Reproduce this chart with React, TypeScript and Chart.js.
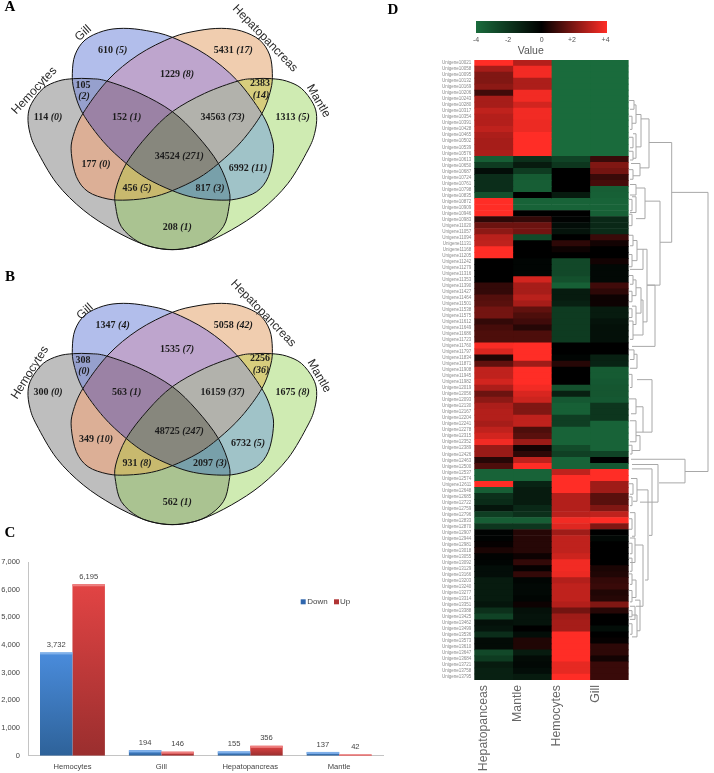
import React, { useEffect, useRef } from "react";
import { Chart, registerables } from "chart.js";

Chart.register(...registerables);

// ---------- Venn data ----------
const vennSets = ["Hepatopancreas", "Gill", "Mantle", "Hemocytes"];
// region membership flags follow vennSets; each region has its own tint
const vennRegions = [
  ["1000", "rgb(240,205,175)"],
  ["0100", "rgb(178,190,235)"],
  ["0010", "rgb(207,235,178)"],
  ["0001", "rgb(190,190,190)"],
  ["0101", "rgb(150,160,205)"],
  ["1100", "rgb(190,165,205)"],
  ["1010", "rgb(215,205,125)"],
  ["1101", "rgb(155,130,165)"],
  ["1110", "rgb(178,178,172)"],
  ["0110", "rgb(160,195,200)"],
  ["1001", "rgb(220,175,150)"],
  ["1011", "rgb(200,185,110)"],
  ["0111", "rgb(120,160,170)"],
  ["1111", "rgb(135,135,125)"],
  ["0011", "rgb(170,195,145)"],
];
const gillOutline = [[370,85],[440,92],[517,112],[620,165],[710,240],[785,340],[815,410],[820,460],[805,530],[770,575],[710,597],[650,600],[580,592],[517,572],[440,535],[378,490],[310,425],[248,340],[222,270],[217,220],[225,165],[255,120],[310,93]];
const hemoOutline = [[84,350],[95,310],[130,265],[175,243],[220,236],[270,236],[320,243],[420,280],[517,335],[590,405],[655,490],[687,570],[687,620],[670,680],[620,725],[560,745],[500,748],[430,733],[340,690],[250,630],[170,550],[110,450],[90,400]];
const mirrorX = 1034;

const regionX = [338,700,531,249,780,144,380,668,878,538,288,744,411,630,532];
const regionY = [150,150,222,256,251,352,351,353,353,469,494,504,566,566,681];
const regionIsTwoLine = [0,0,0,1,1,0,0,0,0,0,0,0,0,0,0];
const countsA = [610,5431,1229,105,2383,114,152,34563,1313,34524,177,6992,456,817,208];
const degsA = [5,17,8,2,14,0,1,73,5,271,0,11,5,3,1];
const countsB = [1347,5058,1535,308,2256,300,563,16159,1675,48725,349,6732,931,2097,562];
const degsB = [4,42,7,0,36,0,1,37,8,247,10,5,8,3,1];

const setLabelNames = ["Hemocytes", "Gill", "Hepatopancreas", "Mantle"];
const setLabelA = [[103,272,-47],[250,100,-42],[795,115,46],[955,303,60]];
const setLabelB = [[90,293,-58],[255,110,-42],[790,115,46],[957,303,60]];

// ---------- Bar data ----------
const barCategories = ["Hemocytes", "Gill", "Hepatopancreas", "Mantle"];
const downValues = [3732, 194, 155, 137];
const upValues = [6195, 146, 356, 42];

// ---------- Heatmap data ----------
const heatColumns = ["Hepatopanceas", "Mantle", "Hemocytes", "Gill"];
const heatTickPos = [0.24, 1.12, 2.15, 3.15];
const hepato = [4,2.6,2,2,2.2,1,2.6,2.6,3,2.8,2.8,3,2.7,2.6,2.6,2.7,-3.5,-2.2,-0.5,-1.7,-1.7,-1.7,-3,4,4,4,0.7,1.7,2.2,2.9,3,4,4,0,0,0,0,0.8,0.8,1.3,1.4,1.8,1.8,0.8,1.1,1.2,1.2,3.9,3.4,0.5,1.5,3,3,3.3,2.7,1.7,2.2,2.7,2.8,2.8,2.6,3,3.3,3.8,2.4,2.4,0.6,1.2,-3.7,-3.7,4,-3.5,-1.8,-1.6,-0.8,-2.3,-3.5,-2,-0.1,-0.1,0.1,0.4,-0.1,-0.2,-0.5,-0.5,-1,-1,-1,-1,-0.8,-1.8,-2.5,-0.6,-0.8,-1.7,-0.4,-0.4,-2.7,-2.2,-1,-1.2,-1.2];
const mantle = [2.8,3.8,3.8,2.7,2.7,3.8,3.8,3.3,3.8,3.8,3.7,3.7,4,4,4,4,-1.8,-1,-2.2,-3.4,-3.5,-3.5,0,-3.7,-3.7,0,0.8,1.7,1.8,-2.8,0,0,0,-0.2,-0.2,-0.2,3.3,2.6,2.6,2.9,2.6,1.5,1.2,1,0.6,1.2,1.2,4,4,4,2.5,4,4,4,3.8,3.4,3.2,2,2,3,3,1.2,1.4,2.4,0.3,0.7,3,4,-3.7,-3.7,-1.3,-1,-1,-1,-1.5,-1.8,-3.5,-2,0.6,0.6,0.6,0.6,0.2,0.8,0.1,0.8,-0.2,-0.3,-0.3,-0.2,0.2,-0.6,-0.7,-0.7,0,-0.5,0.5,0.5,-1,-0.4,-0.3,-0.5,-1];
const hemocytes = [-4,-4,-4,-4,-4,-4,-4,-4,-4,-4,-4,-4,-4,-4,-4,-4,-2.5,-2,0,0,0,0,-1,-3.7,-3.7,0,-0.1,-0.5,-0.7,0,0.7,0.2,0,-2.7,-2.7,-2.7,-3,-3.6,-1,-1,-1.2,-2.2,-2.2,-2.2,-2.2,-2.2,-2.2,0,0,-0.2,0.6,0,0,0,-3,-1.2,-3.3,-3.6,-3.6,-2.3,-2.3,-3.7,-3.7,-3.7,-2.8,-2.4,-3.7,-3.7,3,4,4,4,2.8,2.8,2.8,2.9,3.8,3.5,2.5,3,3,3,3.2,3.8,3.8,3.7,2.8,3,3,3,2.8,1.8,2.5,2.6,2.6,4,4,4,4,4,3.6,3.6,4];
const gill = [-4,-4,-4,-4,-4,-4,-4,-4,-4,-4,-4,-4,-4,-4,-4,-4,0.9,2,1.8,0.9,1.1,-3.5,-3.6,-3.7,-3.7,-3.6,-1.5,-1.5,-1.6,0.9,0.3,0,0,0.3,-0.3,-0.3,-0.3,1,0.7,0.2,0.2,-1,-1,-0.7,-0.6,-0.6,-0.6,0,0,-1.2,-1.3,-3.4,-3.4,-3.3,-3.2,-3.2,-3.3,-2,-2,-2,-3.7,-3.7,-3.7,-3.7,-3.7,-2.5,0,-3.3,4,4,2.5,2.5,1.4,1.4,2,3,4,2,0,-0.3,0,0,0,0,0.4,0.5,0.8,0.9,0.5,0.6,2,0.6,0,0,-0.5,0,0.1,0.7,0.7,0.3,0.9,0.9,0.9];
const heatSeries = [hepato, mantle, hemocytes, gill];
const rowLabels = hepato.map((_, i) => "Unigene" + String(10021 + i * 37));
const colorbarTicks = [[476, "-4"], [508, "-2"], [541.6, "0"], [572, "+2"], [605.6, "+4"]];

// merge node: [height, top row position, bottom row position, top child height, bottom child height]
const dendrogram = [
  [708,167,486,671.7,685],[671.7,110,224,649,660],[649,83,139,641,640],[660,177,273,645,647],[655,273,343,647,632],
  [647,232,315,643,643],[685,472,499,631,659],[658,478,521,632,640],[652,483,559,632,649],[652,381,441,637,643],
  [634,62,72,629,630],[636,67,88,634,632],[632,80,95,629,630],[641,78,115,636,636],[636,100,128,633,633],[633,104,116,629,630],[633,120,130,629,630],[640,134,148,631,633],[633,141,152,629,630],
  [645,162,197,636,636],[636,158,170,630,630],[632,175,188,629,630],[636,172,190,632,630],[632,192,205,629,629],
  [633,216,228,629,630],[637,222,245,633,632],[632,238,252,629,629],[643,232,255,637,630],
  [633,262,272,629,630],[636,267,285,633,632],[632,280,292,629,629],[641,276,305,636,636],[636,297,318,632,633],[632,300,310,629,629],[633,314,335,629,630],[643,290,330,641,633],
  [634,347,358,629,630],[637,352,368,634,630],[632,375,390,629,630],
  [636,403,420,629,631],[643,412,441,636,636],[636,428,452,630,630],[632,456,466,629,630],[640,445,462,636,632],
  [648,507,610,637,645],[637,494,520,631,633],[633,500,512,629,630],[632,515,525,629,630],[635,533,560,630,632],[632,540,552,629,629],
  [643,570,640,635,636],[635,562,590,630,630],[632,568,580,629,630],[632,585,600,629,630],[636,610,630,632,632],[632,603,615,629,630],[632,622,635,629,630],[640,633,668,635,637],[635,640,655,630,630],[637,650,675,632,632],[632,660,672,629,630],[632,645,652,629,629],
];

const SANS = "'Liberation Sans', Arial, sans-serif";
const SERIF = "'Liberation Serif', serif";

function heatColor(v: number) {
  const t = Math.min(Math.abs(v) / 4, 1);
  const c = v < 0 ? [26, 107, 60] : [255, 45, 38];
  return `rgb(${Math.round(c[0] * t)},${Math.round(c[1] * t)},${Math.round(c[2] * t)})`;
}

function tracePath(ctx: any, pts: number[][], sx: any, sy: any) {
  const p = pts.map(([x, y]) => [sx.getPixelForValue(x), sy.getPixelForValue(y)]);
  const n = p.length;
  ctx.beginPath();
  ctx.moveTo(p[0][0], p[0][1]);
  for (let i = 0; i < n; i++) {
    const a = p[(i - 1 + n) % n], b = p[i], c = p[(i + 1) % n], d = p[(i + 2) % n];
    ctx.bezierCurveTo(b[0] + (c[0] - a[0]) / 6, b[1] + (c[1] - a[1]) / 6, c[0] - (d[0] - b[0]) / 6, c[1] - (d[1] - b[1]) / 6, c[0], c[1]);
  }
  ctx.closePath();
}

function vennPlugin(letter: string, letterY: number, labels: number[][], counts: number[], degs: number[]) {
  return {
    id: "venn",
    beforeDatasetsDraw(chart: any) {
      const { ctx, width, height, scales: { x, y } } = chart;
      const mirror = (o: number[][]) => o.map(([a, b]) => [mirrorX - a, b]);
      const shapes = [mirror(gillOutline), gillOutline, mirror(hemoOutline), hemoOutline];
      vennRegions.forEach(([mask, color]) => {
        ctx.save();
        shapes.forEach((s, i) => {
          tracePath(ctx, s, x, y);
          if (mask[i] === "1") {
            ctx.clip();
          } else {
            ctx.rect(-10, -10, width + 20, height + 20);
            ctx.clip("evenodd");
          }
        });
        ctx.fillStyle = color;
        ctx.fillRect(0, 0, width, height);
        ctx.restore();
      });
      ctx.save();
      ctx.strokeStyle = "#111";
      ctx.lineWidth = 1;
      shapes.forEach((s) => {
        tracePath(ctx, s, x, y);
        ctx.stroke();
      });
      ctx.restore();
    },
    afterDatasetsDraw(chart: any) {
      const { ctx, scales: { x, y } } = chart;
      ctx.save();
      ctx.textBaseline = "middle";
      ctx.fillStyle = "#1c1c1c";
      const boldF = `bold 10px ${SERIF}`;
      const italF = `italic bold 10px ${SERIF}`;
      counts.forEach((c, i) => {
        const px = x.getPixelForValue(regionX[i]);
        const py = y.getPixelForValue(regionY[i]);
        const a = String(c);
        const b = `(${degs[i]})`;
        if (regionIsTwoLine[i]) {
          ctx.textAlign = "center";
          ctx.font = boldF;
          ctx.fillText(a, px, py);
          ctx.font = italF;
          ctx.fillText(b, px + 1, py + 11.5);
        } else {
          ctx.textAlign = "left";
          ctx.font = boldF;
          const wa = ctx.measureText(a + " ").width;
          ctx.font = italF;
          const wb = ctx.measureText(b).width;
          const start = px - (wa + wb) / 2;
          ctx.font = boldF;
          ctx.fillText(a, start, py);
          ctx.font = italF;
          ctx.fillText(b, start + wa, py);
        }
      });
      ctx.fillStyle = "#2a2a2a";
      ctx.font = `12px ${SANS}`;
      ctx.textAlign = "center";
      labels.forEach((l, i) => {
        ctx.save();
        ctx.translate(x.getPixelForValue(l[0]), y.getPixelForValue(l[1]));
        ctx.rotate((l[2] * Math.PI) / 180);
        ctx.fillText(setLabelNames[i], 0, 0);
        ctx.restore();
      });
      ctx.fillStyle = "#000";
      ctx.font = `bold 15px ${SERIF}`;
      ctx.fillText(letter, x.getPixelForValue(30), y.getPixelForValue(letterY));
      ctx.restore();
    },
  };
}

function vennConfig(letter: string, letterY: number, yMin: number, labels: number[][], counts: number[], degs: number[]) {
  return {
    type: "scatter",
    data: {
      datasets: [{
        label: vennSets.join(" / "),
        data: regionX.map((rx, i) => ({ x: rx, y: regionY[i] })),
        pointRadius: 0,
      }],
    },
    options: {
      animation: false,
      responsive: false,
      devicePixelRatio: 1,
      layout: { padding: 0 },
      plugins: { legend: { display: false }, tooltip: { enabled: false } },
      scales: {
        x: { display: false, min: 0, max: 1080 },
        y: { display: false, min: yMin, max: yMin + 780, reverse: true },
      },
    },
    plugins: [vennPlugin(letter, letterY, labels, counts, degs)],
  };
}

const barGradient = (top: string, bottom: string) => (c: any) => {
  const { chart, parsed } = c;
  if (!parsed || !chart.chartArea) return top;
  const s = chart.scales.y;
  const g = chart.ctx.createLinearGradient(0, s.getPixelForValue(parsed.y), 0, s.getPixelForValue(0));
  g.addColorStop(0, top);
  g.addColorStop(1, bottom);
  return g;
};

const barPlugin = {
  id: "barExtras",
  afterDatasetsDraw(chart: any) {
    const { ctx } = chart;
    ctx.save();
    const caps = ["#7fb0ea", "#ee7f7f"];
    ctx.font = `7.6px ${SANS}`;
    ctx.textAlign = "center";
    ctx.textBaseline = "middle";
    chart.data.datasets.forEach((ds: any, di: number) => {
      chart.getDatasetMeta(di).data.forEach((bar: any, i: number) => {
        ctx.fillStyle = caps[di];
        ctx.fillRect(bar.x - bar.width / 2, bar.y, bar.width, Math.min(2, bar.base - bar.y));
        ctx.fillStyle = "#444";
        ctx.fillText(ds.data[i].toLocaleString("en-US"), bar.x, bar.y - 7.5);
      });
    });
    ctx.fillStyle = "#2f66ad"; ctx.fillRect(300.7, 79.3, 5, 5);
    ctx.fillStyle = "#b03434"; ctx.fillRect(334, 79.3, 5, 5);
    ctx.fillStyle = "#444";
    ctx.textAlign = "left";
    ctx.font = `8px ${SANS}`;
    ctx.fillText(chart.data.datasets[0].label, 307.3, 82);
    ctx.fillText(chart.data.datasets[1].label, 340, 82);
    ctx.fillStyle = "#000";
    ctx.font = `bold 15px ${SERIF}`;
    ctx.textAlign = "center";
    ctx.fillText("C", 10, 13);
    ctx.restore();
  },
};

const barConfig = {
  type: "bar",
  data: {
    labels: barCategories,
    datasets: [
      { label: "Down", data: downValues, backgroundColor: barGradient("#4a8cdc", "#2e6299") },
      { label: "Up", data: upValues, backgroundColor: barGradient("#e24444", "#9a2e2e") },
    ],
  },
  options: {
    animation: false,
    responsive: false,
    devicePixelRatio: 1,
    layout: { padding: { top: 42, right: 1.4 } },
    datasets: { bar: { categoryPercentage: 0.73, barPercentage: 1 } },
    plugins: { legend: { display: false }, tooltip: { enabled: false } },
    scales: {
      x: {
        grid: { display: false, drawTicks: false },
        border: { color: "#c4c4c4" },
        ticks: { color: "#444", font: { size: 7.6, family: SANS }, padding: 7, maxRotation: 0, autoSkip: false },
        afterFit: (s: any) => { s.height = 17.3; },
      },
      y: {
        min: 0, max: 7000,
        grid: { display: false, drawTicks: false },
        border: { color: "#c4c4c4" },
        ticks: {
          stepSize: 1000, color: "#444", font: { size: 7.5, family: SANS }, padding: 8,
          callback: (v: number) => v.toLocaleString("en-US"),
        },
        afterFit: (s: any) => { s.width = 28; },
      },
    },
  },
  plugins: [barPlugin],
};

const heatPlugin = {
  id: "heatExtras",
  afterDatasetsDraw(chart: any) {
    const { ctx, scales: { dx, dy } } = chart;
    ctx.save();
    // dendrogram
    ctx.strokeStyle = "#a8a8a8";
    ctx.lineWidth = 1;
    dendrogram.forEach(([h, t, b, ct, cb]) => {
      const X = dx.getPixelForValue(h), T = dy.getPixelForValue(t), B = dy.getPixelForValue(b);
      ctx.beginPath();
      ctx.moveTo(dx.getPixelForValue(ct), T);
      ctx.lineTo(X, T);
      ctx.lineTo(X, B);
      ctx.lineTo(dx.getPixelForValue(cb), B);
      ctx.stroke();
    });
    // colour bar
    const x0 = dx.getPixelForValue(476), x1 = dx.getPixelForValue(607);
    const g = ctx.createLinearGradient(x0, 0, x1, 0);
    g.addColorStop(0, heatColor(-4));
    g.addColorStop(0.5, heatColor(0));
    g.addColorStop(1, heatColor(4));
    ctx.fillStyle = g;
    ctx.fillRect(x0, 21, x1 - x0, 12);
    ctx.fillStyle = "#555";
    ctx.font = `7px ${SANS}`;
    ctx.textAlign = "center";
    ctx.textBaseline = "middle";
    colorbarTicks.forEach(([v, t]: any) => ctx.fillText(t, dx.getPixelForValue(v), 40));
    ctx.font = `10.5px ${SANS}`;
    ctx.fillText("Value", dx.getPixelForValue(530.7), 51.5);
    ctx.fillStyle = "#000";
    ctx.font = `bold 15px ${SERIF}`;
    ctx.fillText("D", 8, 10);
    ctx.restore();
  },
};

const heatConfig = {
  type: "bar",
  data: {
    labels: rowLabels,
    datasets: heatSeries.map((vals, c) => ({
      label: heatColumns[c],
      stack: "heat",
      data: vals.map(() => [c, c + 1]),
      backgroundColor: vals.map(heatColor),
      borderWidth: 0,
      barPercentage: 1,
      categoryPercentage: 1,
    })),
  },
  options: {
    indexAxis: "y",
    animation: false,
    responsive: false,
    devicePixelRatio: 1,
    layout: { padding: { top: 60 } },
    plugins: { legend: { display: false }, tooltip: { enabled: false } },
    scales: {
      x: {
        type: "linear", min: 0, max: 6.226, stacked: false,
        grid: { display: false, drawTicks: false },
        border: { display: false },
        afterBuildTicks: (a: any) => { a.ticks = heatTickPos.map((value) => ({ value })); },
        ticks: {
          autoSkip: false, minRotation: 90, maxRotation: 90, padding: 5,
          color: "#666", font: { size: 12.3, family: SANS },
          callback: (_: any, i: number) => heatColumns[i],
        },
        afterFit: (s: any) => { s.height = 93; },
      },
      y: {
        type: "category", stacked: true, offset: true,
        grid: { display: false, drawTicks: false },
        border: { display: false },
        ticks: { autoSkip: false, color: "#8a8a8a", font: { size: 4.5, family: SANS }, padding: 3 },
        afterFit: (s: any) => { s.width = 89.3; },
      },
      dx: { type: "linear", axis: "x", display: false, min: 474.3, max: 714 },
      dy: { type: "linear", axis: "y", display: false, min: 60, max: 680, reverse: true },
    },
  },
  plugins: [heatPlugin],
};

function Panel({ config, left, top, width, height }: any) {
  const ref = useRef<HTMLCanvasElement>(null);
  useEffect(() => {
    const chart = new Chart(ref.current as any, config);
    return () => chart.destroy();
  }, []);
  return (
    <canvas
      ref={ref}
      width={width}
      height={height}
      style={{ position: "absolute", left, top, width, height, filter: "blur(0.45px)" }}
    />
  );
}

const vennA = vennConfig("A", 20, 0, setLabelA, countsA, degsA);
const vennB = vennConfig("B", 5, -15, setLabelB, countsB, degsB);

export default function App() {
  return (
    <div style={{ position: "absolute", left: 0, top: 0, width: 714, height: 773, overflow: "hidden", background: "#fff" }}>
      <Panel config={vennA} left={0} top={0} width={360} height={260} />
      <Panel config={vennB} left={0} top={270} width={360} height={260} />
      <Panel config={barConfig} left={0} top={520} width={385} height={253} />
      <Panel config={heatConfig} left={385} top={0} width={329} height={773} />
    </div>
  );
}
